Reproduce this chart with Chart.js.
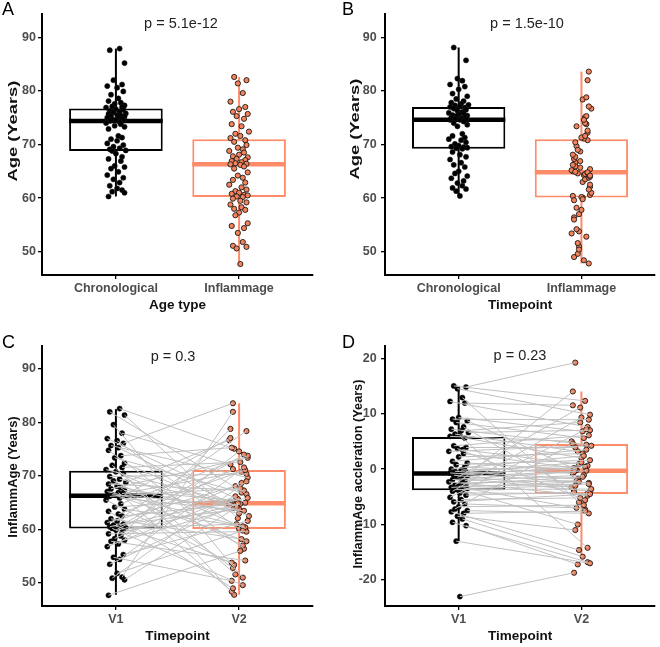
<!DOCTYPE html>
<html><head><meta charset="utf-8">
<script src="https://cdn.jsdelivr.net/npm/chart.js@4.4.1/dist/chart.umd.min.js"></script>
<style>
html,body{margin:0;padding:0;background:#fff}
body{width:660px;height:647px;position:relative;overflow:hidden;font-family:"Liberation Sans",Arial,sans-serif}
canvas{position:absolute}
.lt{position:absolute;font-size:18px;line-height:1;color:#000}
.pv{position:absolute;font-size:14.5px;line-height:1;color:#222;transform:translate(-50%,-50%);white-space:nowrap}
.yt{position:absolute;font-size:13px;font-weight:bold;line-height:1;color:#111;white-space:nowrap}
</style></head><body>
<canvas id="cA" width="330" height="320" style="left:0;top:0"></canvas>
<canvas id="cB" width="330" height="320" style="left:330px;top:0"></canvas>
<canvas id="cC" width="330" height="327" style="left:0;top:320px"></canvas>
<canvas id="cD" width="330" height="327" style="left:330px;top:320px"></canvas>

<div class="lt" style="left:2px;top:0">A</div>
<div class="lt" style="left:342px;top:0">B</div>
<div class="lt" style="left:2px;top:333px">C</div>
<div class="lt" style="left:342px;top:333px">D</div>

<div class="pv" style="left:181px;top:23px">p = 5.1e-12</div>
<div class="pv" style="left:527px;top:23px">p = 1.5e-10</div>
<div class="pv" style="left:173px;top:356px">p = 0.3</div>
<div class="pv" style="left:520px;top:355px">p = 0.23</div>

<div class="yt" style="left:12px;top:131px;transform:translate(-50%,-50%) rotate(-90deg) scaleX(1.41)">Age (Years)</div>
<div class="yt" style="left:354px;top:129px;transform:translate(-50%,-50%) rotate(-90deg) scaleX(1.41)">Age (Years)</div>
<div class="yt" style="left:12px;top:477px;transform:translate(-50%,-50%) rotate(-90deg)">InflammAge (Years)</div>
<div class="yt" style="left:357px;top:474px;transform:translate(-50%,-50%) rotate(-90deg) scaleX(0.975)">InflammAge accleration (Years)</div>

<script>
// ---------------- DATA ----------------
const ageTypeLabels = ['Chronological', 'Inflammage'];
const timepointLabels = ['V1', 'V2'];
const ageTicks = [50, 60, 70, 80, 90];
const accelTicks = [-20, -10, 0, 10, 20];

// Chronological age at V1 (panel A)
const chronV1 = [87.9, 87.6, 85.2, 82.0, 81.2, 80.9, 80.6, 79.9, 79.3, 78.6, 78.1, 77.8, 77.6, 77.3, 77.1, 77.0, 76.9,
  76.6, 76.5, 76.3, 76.1, 76.0, 75.8, 75.7, 75.5, 75.4, 75.3, 75.2, 75.0, 74.9, 74.8, 74.7, 74.6, 74.5, 74.4,
  74.2, 74.0, 73.8, 73.5, 73.3, 72.9, 71.6, 71.3, 71.0, 70.7, 70.2, 69.9, 69.6, 69.3, 69.1, 68.9, 68.8,
  68.3, 67.7, 67.3, 66.9, 66.0, 65.8, 65.5, 64.9, 64.3, 63.8, 63.5, 62.9, 62.3, 61.8, 61.5, 61.2, 61.0, 60.3];

// InflammAge at V1 (panel A inflammage, panel C V1)
const inflV1 = [82.6, 82.0, 81.4, 79.6, 78.0, 77.0, 76.6, 76.1, 75.7, 75.3, 74.8, 73.8, 73.4, 72.4, 72.0, 71.6, 71.2,
  70.8, 70.5, 69.9, 69.4, 69.1, 68.8, 68.5, 68.1, 67.8, 67.6, 67.3, 67.1, 66.9, 66.7, 66.5, 66.4, 66.3, 66.2,
  65.9, 65.5, 64.8, 64.2, 63.8, 63.4, 62.9, 62.5, 62.0, 61.6, 61.3, 61.0, 60.8, 60.6, 60.5, 60.3, 60.2,
  59.9, 59.5, 59.2, 58.8, 58.3, 58.0, 57.8, 57.3, 56.8, 55.3, 54.8, 54.4, 53.5, 51.8, 51.1, 50.9, 50.6, 47.7];

// Chronological age at V2 (panel B)
const chronV2 = [88.1, 85.7, 82.3, 81.9, 81.2, 80.8, 80.3, 79.5, 79.0, 78.5, 78.1, 77.8, 77.6, 77.4, 77.3, 77.1, 77.0,
  76.9, 76.7, 76.5, 76.3, 76.1, 75.9, 75.8, 75.6, 75.5, 75.4, 75.3, 75.1, 75.0, 74.9, 74.8, 74.7, 74.6, 74.6,
  74.3, 74.0, 73.7, 73.4, 72.0, 71.6, 71.3, 71.0, 70.8, 70.4, 70.1, 69.8, 69.6, 69.5, 69.4, 69.3, 69.2,
  68.6, 68.1, 67.7, 67.2, 66.6, 66.2, 65.8, 65.0, 64.6, 64.1, 63.7, 63.2, 62.8, 62.3, 61.9, 61.7, 61.3, 60.4];

// InflammAge at V2 (panel B inflammage, panel C V2), paired with inflV1 by position
const inflV2 = [75.1, 66.6, 62.1, 51.0, 72.2, 65.0, 60.1, 83.6, 69.7, 64.3,
  56.4, 75.3, 66.9, 62.5, 51.6, 72.6, 65.2, 60.2, 47.8, 70.4,
  64.5, 57.0, 76.7, 67.3, 63.0, 52.8, 73.4, 65.4, 60.4, 48.4,
  70.8, 64.6, 57.8, 77.1, 67.7, 63.5, 53.4, 73.8, 65.7, 60.6,
  49.0, 71.1, 64.7, 58.2, 78.4, 68.1, 63.8, 53.8, 74.0, 65.9,
  61.0, 49.6, 71.3, 64.8, 59.6, 78.8, 68.7, 64.0, 54.2, 74.6,
  66.2, 61.6, 50.4, 71.6, 64.9, 59.8, 82.0, 69.0, 64.2, 56.0];

// InflammAge acceleration at V1 / V2 (panel D), paired by position
const accelV1 = [15.0, 14.8, 14.5, 12.9, 12.2, 11.9, 9.3, 9.0, 8.7, 8.4, 7.6, 7.2, 6.9, 6.6, 6.3, 6.0, 5.9,
  5.6, 4.2, 3.9, 3.7, 3.5, 3.2, 2.8, 2.2, 1.4, 1.1, 0.8, 0.4, 0.0, -0.2, -0.4, -0.5, -0.7, -0.8,
  -0.9, -1.1, -1.3, -1.5, -1.7, -1.9, -2.1, -2.3, -2.5, -2.7, -2.9, -3.1, -3.3, -3.4, -3.5, -3.7, -3.8,
  -4.0, -4.3, -4.7, -5.1, -5.5, -5.9, -6.3, -6.8, -7.2, -7.5, -7.7, -8.0, -8.5, -9.0, -9.6, -10.2, -13.0, -23.0];
const accelV2 = [12.3, 19.2, 9.8, -6.0, 7.6, 11.5, 6.8, 8.9, -0.1, 5.6,
  -3.8, 4.4, 8.4, 7.0, 3.2, -14.2, 5.0, 2.0, 6.1, 3.9,
  -5.6, 0.9, 4.2, 0.2, 2.8, 3.5, -0.2, 1.6, -0.8, 2.4,
  0.6, -1.8, 1.2, -2.5, 0.0, 0.4, -3.3, -0.3, 11.1, -4.0,
  -0.5, -1.1, -4.8, -2.1, -1.4, 14.0, -2.7, -2.3, -7.3, -3.0,
  -3.6, -10.0, 9.3, -4.4, -4.2, 7.2, -5.2, -4.5, -7.0, -6.5,
  4.6, -8.0, -14.6, -7.6, -11.0, -15.8, -16.8, -17.2, -17.0, -18.7];

// Box statistics: [lower whisker, Q1, median, Q3, upper whisker]
const statsChronV1 = [60.3, 68.8, 74.4, 76.7, 87.9];
const statsInflV1  = [47.7, 60.2, 66.3, 71.0, 82.6];
const statsChronV2 = [60.4, 69.2, 74.6, 77.0, 88.1];
const statsInflV2  = [47.8, 60.1, 64.8, 71.0, 83.6];
const statsInflV1c = [47.8, 60.2, 66.3, 71.0, 82.5];
const statsInflV2c = [47.8, 60.1, 64.9, 71.1, 83.6];
const statsAccelV1 = [-13.0, -3.8, -0.8, 5.8, 15.0];
const statsAccelV2 = [-15.8, -4.5, -0.3, 4.5, 14.0];

// horizontal jitter offsets (category units)
const jitterA = [0.03,-0.05,0.07,-0.02,0.05,-0.07,0.01,0.06,-0.04,0.02,-0.06,0.04,-0.01,0.07,-0.03,0.05,-0.08,0.00,0.06,-0.05,
  0.03,-0.02,0.08,-0.06,0.01,0.04,-0.04,0.07,-0.07,0.02,0.05,-0.03,0.00,0.06,-0.05,0.03,-0.08,0.04,-0.01,0.07,
  -0.06,0.02,0.05,-0.04,0.01,-0.07,0.06,-0.02,0.03,-0.05,0.08,-0.03,0.00,0.05,-0.06,0.04,-0.01,0.07,-0.04,0.02,
  -0.07,0.06,-0.02,0.03,-0.05,0.01,0.05,-0.03,0.07,-0.06];
const jitterB = [-0.04,0.06,-0.01,0.03,-0.07,0.05,0.00,-0.05,0.07,-0.02,0.04,-0.06,0.02,0.08,-0.03,0.01,-0.07,0.05,-0.04,0.06,
  -0.01,0.03,-0.08,0.04,0.00,-0.05,0.07,-0.02,0.05,-0.06,0.02,-0.03,0.06,-0.07,0.01,0.04,-0.04,0.07,-0.01,0.03,
  -0.05,0.05,-0.08,0.02,0.06,-0.03,0.00,-0.06,0.04,0.07,-0.02,0.03,-0.05,0.01,0.06,-0.07,0.02,-0.04,0.05,0.00,
  -0.03,0.07,-0.06,0.04,-0.01,0.03,-0.05,0.06,-0.02,0.01];

// ---------------- STYLE ----------------
const FONT = '"Liberation Sans", Arial, sans-serif';
const BLACK = '#000000';
const ORANGE = '#FF8C69';
const ORANGE_PT = '#F5825A';
Chart.defaults.font.family = FONT;

function panel(id, o) {
  const ds = [];
  const colors = o.groups.map(g => g.color);
  // whiskers
  o.groups.forEach((g, gi) => {
    const c = gi + 1;
    ds.push({type: 'line', order: 5, data: [{x: c, y: g.stats[0]}, {x: c, y: g.stats[4]}],
      borderColor: g.color, borderWidth: 2, pointRadius: 0, fill: false});
  });
  // boxes (one bar dataset)
  ds.push({type: 'bar', order: 4,
    data: o.groups.map((g, gi) => ({x: gi + 1, y: [g.stats[1], g.stats[3]]})),
    backgroundColor: '#ffffff', borderColor: colors, borderWidth: 2, borderSkipped: false,
    barPercentage: 0.76, categoryPercentage: 1});
  // medians
  o.groups.forEach((g, gi) => {
    const c = gi + 1;
    ds.push({type: 'line', order: 3, data: [{x: c - 0.38, y: g.stats[2]}, {x: c + 0.38, y: g.stats[2]}],
      borderColor: g.color, borderWidth: 4.5, pointRadius: 0, fill: false});
  });
  // points
  o.groups.forEach((g, gi) => {
    const c = gi + 1;
    ds.push({type: 'scatter', order: 2, data: g.vals.map((v, i) => ({x: c + g.jit[i], y: v})),
      backgroundColor: g.fill, borderColor: '#1a1a1a', borderWidth: g.bw, pointRadius: 2.6, showLine: false});
  });
  // paired lines
  if (o.paired) {
    const a = o.groups[0], b = o.groups[1];
    const pts = [];
    a.vals.forEach((v, i) => {
      pts.push({x: 1 + a.jit[i], y: v}, {x: 2 + b.jit[i], y: b.vals[i]}, {x: 1.5, y: null});
    });
    ds.push({type: 'line', order: 1, data: pts, borderColor: '#c0c0c0', borderWidth: 1,
      pointRadius: 0, spanGaps: false, fill: false});
  }

  const tickFont = {family: FONT, size: 12.5, weight: 'bold'};
  new Chart(document.getElementById(id), {
    type: 'bar',
    data: {datasets: ds},
    options: {
      responsive: false, animation: false, events: [],
      layout: {padding: o.pad},
      plugins: {legend: {display: false}, tooltip: {enabled: false}},
      scales: {
        x: {
          type: 'linear', min: 0.4, max: 2.6, offset: false,
          afterBuildTicks: s => { s.ticks = o.xLabels.map((l, i) => ({value: i + 1})); },
          afterFit: s => { s.height = o.xH; },
          ticks: {callback: v => o.xLabels[v - 1], font: tickFont, color: '#4d4d4d', padding: 2.5,
            maxRotation: 0, autoSkip: false},
          grid: {drawOnChartArea: false, drawTicks: true, tickLength: 4, color: '#000', lineWidth: 1.3, offset: false},
          border: {display: true, color: '#000', width: 2},
          title: {display: true, text: o.xTitle, color: '#111', padding: 2.5,
            font: {family: FONT, size: 13.5, weight: 'bold'}}
        },
        y: {
          type: 'linear', min: o.yMin, max: o.yMax,
          afterBuildTicks: s => { s.ticks = o.yTicks.map(v => ({value: v})); },
          afterFit: s => { s.width = o.yW; },
          ticks: {font: tickFont, color: '#4d4d4d', padding: o.yPad, autoSkip: false},
          grid: {drawOnChartArea: false, drawTicks: true, tickLength: 4, color: '#000', lineWidth: 1.3},
          border: {display: true, color: '#000', width: 2},
          title: {display: false}
        }
      }
    }
  });
}

const chronStyle = {color: BLACK, fill: '#000000', bw: 0.5};
const inflStyle = {color: ORANGE, fill: ORANGE_PT, bw: 0.9};

panel('cA', {
  xLabels: ageTypeLabels, xTitle: 'Age type', yTicks: ageTicks, yMin: 45.65, yMax: 94.35,
  pad: {left: 0, right: 17, top: 14, bottom: 4}, yW: 42, xH: 41, yPad: 2, paired: false,
  groups: [
    Object.assign({vals: chronV1, stats: statsChronV1, jit: jitterA}, chronStyle),
    Object.assign({vals: inflV1, stats: statsInflV1, jit: jitterB}, inflStyle)
  ]
});
panel('cB', {
  xLabels: ageTypeLabels, xTitle: 'Timepoint', yTicks: ageTicks, yMin: 45.65, yMax: 94.35,
  pad: {left: 0, right: 2, top: 14, bottom: 4}, yW: 55, xH: 41, yPad: 4.3, paired: false,
  groups: [
    Object.assign({vals: chronV2, stats: statsChronV2, jit: jitterB}, chronStyle),
    Object.assign({vals: inflV2, stats: statsInflV2, jit: jitterA}, inflStyle)
  ]
});
panel('cC', {
  xLabels: timepointLabels, xTitle: 'Timepoint', yTicks: ageTicks, yMin: 45.7, yMax: 94.3,
  pad: {left: 0, right: 17, top: 26, bottom: 0}, yW: 42, xH: 41, yPad: 2, paired: true,
  groups: [
    Object.assign({vals: inflV1, stats: statsInflV1c, jit: jitterA}, chronStyle),
    Object.assign({vals: inflV2, stats: statsInflV2c, jit: jitterB}, inflStyle)
  ]
});
panel('cD', {
  xLabels: timepointLabels, xTitle: 'Timepoint', yTicks: accelTicks, yMin: -24.7, yMax: 22.2,
  pad: {left: 0, right: 2, top: 26, bottom: 0}, yW: 55, xH: 41, yPad: 4.3, paired: true,
  groups: [
    Object.assign({vals: accelV1, stats: statsAccelV1, jit: jitterB}, chronStyle),
    Object.assign({vals: accelV2, stats: statsAccelV2, jit: jitterA}, inflStyle)
  ]
});
</script>
</body></html>
